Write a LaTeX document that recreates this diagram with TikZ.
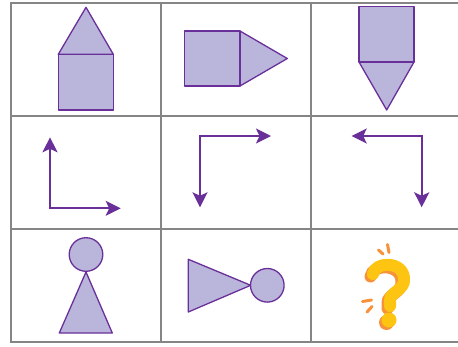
\documentclass[tikz,border=0pt]{standalone}
\usetikzlibrary{arrows.meta}
\definecolor{gridgray}{HTML}{858585}
\definecolor{shapefill}{HTML}{B9B5DB}
\definecolor{shapeline}{HTML}{6A3099}
\definecolor{qyellow}{HTML}{FDC412}
\definecolor{qorange}{HTML}{F7923A}
\begin{document}
\begin{tikzpicture}[x=1pt,y=-1pt,
  gridline/.style={draw=gridgray,line width=2pt},
  shp/.style={fill=shapefill,draw=shapeline,line width=1.3pt,line join=round},
  arr/.style={draw=shapeline,line width=2pt,>={Stealth[length=15pt,width=15pt,inset=3.5pt]},<->},
  qstroke/.style={line width=12pt,line cap=round},
  qdash/.style={draw=qorange,line width=3pt,line cap=round}]
\useasboundingbox (0,0) rectangle (458,346);
% grid
\foreach \y in {3,115.5,228.5,341.5} \draw[gridline] (10.5,\y) -- (460,\y);
\foreach \x in {10.5,161,311} \draw[gridline] (\x,2) -- (\x,342.5);
% cell 1: house
\draw[shp] (58.3,54.3) rectangle (113.3,110);
\draw[shp] (58.3,54.3) -- (86,7.3) -- (113.3,54.3) -- cycle;
% cell 2
\draw[shp] (240,31) -- (287.3,58.5) -- (240,86) -- cycle;
\draw[shp] (184.3,31) rectangle (240,86);
% cell 3
\draw[shp] (359,62) -- (386.7,110) -- (414,62) -- cycle;
\draw[shp] (359,6.7) rectangle (414,62);
% arrows
\coordinate (a1) at (50,137.3); \coordinate (c1) at (50,208.3); \coordinate (b1) at (120.7,208.3);
\draw[arr] (a1) -- (c1) -- (b1);
\coordinate (a2) at (200,207.3); \coordinate (c2) at (200,136); \coordinate (b2) at (271,136);
\draw[arr] (a2) -- (c2) -- (b2);
\coordinate (a3) at (351.7,136); \coordinate (c3) at (421.7,136); \coordinate (b3) at (421.7,207.3);
\draw[arr] (a3) -- (c3) -- (b3);
% cell 7
\draw[shp] (86,272) -- (112.3,333) -- (59.3,333) -- cycle;
\draw[shp] (86,254.5) circle[radius=16.8];
% cell 8
\draw[shp] (188.3,259.3) -- (250.7,285.3) -- (188.3,312) -- cycle;
\draw[shp] (267.3,285.3) circle[radius=16.8];
% cell 9: question mark
\begin{scope}[shift={(-2.5,2.5)}]
\draw[qorange,qstroke] (373,274) .. controls (375,261) and (404,261) .. (404,279) .. controls (405,290) and (390,292) .. (390,300) -- (390,306);
\fill[qorange] (389,320) circle[radius=7.5];
\end{scope}
\draw[qyellow,qstroke] (373,274) .. controls (375,261) and (404,261) .. (404,279) .. controls (405,290) and (390,292) .. (390,300) -- (390,306);
\fill[qyellow] (389,320) circle[radius=7.5];
\draw[qdash] (378.5,250) -- (383,254);
\draw[qdash] (387.5,244.5) -- (389,252.5);
\draw[qdash] (362.5,301.5) -- (371.5,300);
\draw[qdash] (367,312) -- (372,306.5);
\end{tikzpicture}
\end{document}
